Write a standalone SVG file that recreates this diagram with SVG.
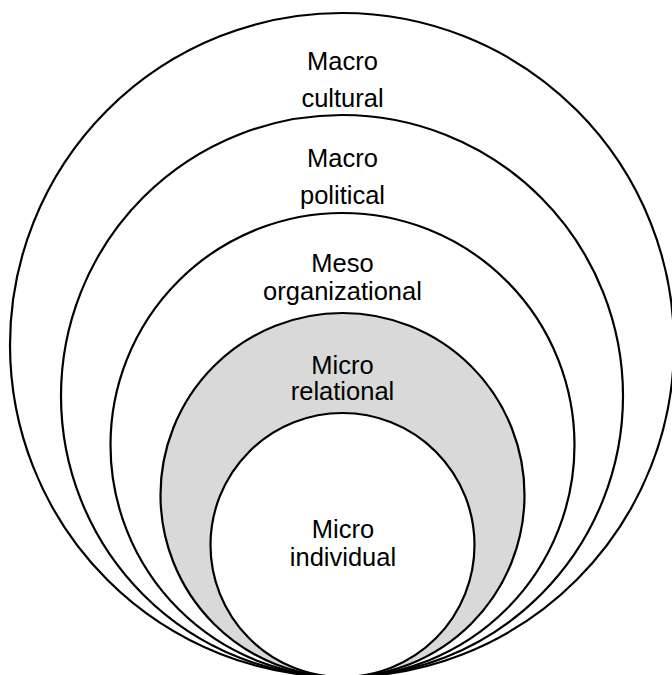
<svg xmlns="http://www.w3.org/2000/svg" width="672" height="675" viewBox="0 0 672 675">
<style>
.ring{fill:#ffffff;stroke:#000000;stroke-width:2.2}
.gray{fill:#d9d9d9}
text{font-family:"Liberation Sans",Arial,sans-serif;font-size:25.5px;fill:#000000;text-anchor:middle}
</style>
<rect width="672" height="675" fill="#ffffff"/>
<g id="macro-cultural">
<circle class="ring" cx="342" cy="345" r="332"/>
<text x="342.5" y="70">Macro</text>
<text x="342.5" y="107">cultural</text>
</g>
<g id="macro-political">
<circle class="ring" cx="342" cy="396" r="281"/>
<text x="342.5" y="167">Macro</text>
<text x="342.5" y="204">political</text>
</g>
<g id="meso-organizational">
<circle class="ring" cx="342.5" cy="445" r="232"/>
<text x="342.5" y="272">Meso</text>
<text x="342.5" y="299.5">organizational</text>
</g>
<g id="micro-relational">
<circle class="ring gray" cx="342.5" cy="495" r="182"/>
<text x="342.5" y="373.5">Micro</text>
<text x="342.5" y="400">relational</text>
</g>
<g id="micro-individual">
<circle class="ring" cx="342.5" cy="545" r="132"/>
<text x="343" y="537.5">Micro</text>
<text x="343" y="566">individual</text>
</g>
<g id="connectors"/>
</svg>
